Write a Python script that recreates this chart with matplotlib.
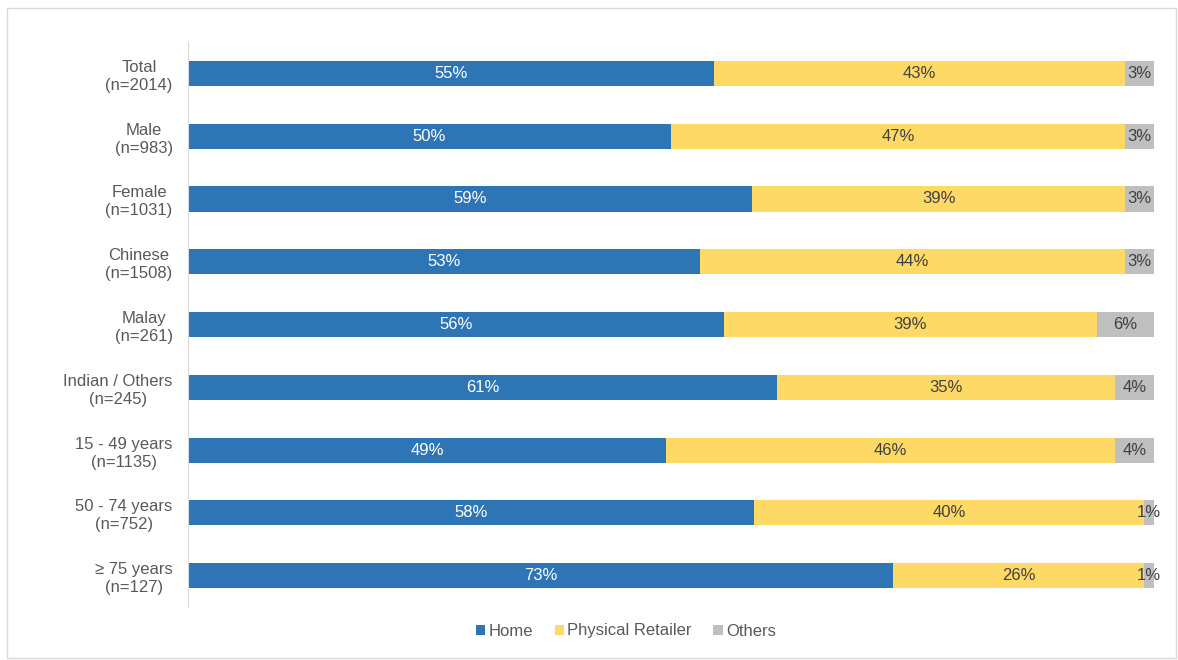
import matplotlib.pyplot as plt
import numpy as np
from matplotlib.patches import Rectangle

plt.rcParams['font.family'] = ['Liberation Sans', 'DejaVu Sans']

# --- Daten ---
categories = ['Total\n(n=2014)', 'Male\n(n=983)', 'Female\n(n=1031)', 'Chinese\n(n=1508)',
              'Malay\n(n=261)', 'Indian / Others\n(n=245)', '15 - 49 years\n(n=1135)',
              '50 - 74 years\n(n=752)', '\u2265 75 years\n(n=127)']
home = [55, 50, 59, 53, 56, 61, 49, 58, 73]
retailer = [43, 47, 39, 44, 39, 35, 46, 40, 26]
others = [3, 3, 3, 3, 6, 4, 4, 1, 1]
series_names = ['Home', 'Physical Retailer', 'Others']

colors = ['#2E75B6', '#FFD966', '#BFBFBF']
text_colors = ['white', '#404040', '#404040']

W, H = 1178, 660
fig = plt.figure(figsize=(W / 100, H / 100), dpi=100)
ax = fig.add_axes([188 / W, 1 - 607 / H, (1154 - 188) / W, (607 - 42) / H])

vals = np.array([home, retailer, others], dtype=float)
shares = vals / vals.sum(axis=0) * 100  # 100%-gestapelt wie in Excel
y = np.arange(len(categories))
left = np.zeros(len(categories))
for i, name in enumerate(series_names):
    ax.barh(y, shares[i], left=left, height=0.4, color=colors[i], label=name)
    for j in range(len(categories)):
        ax.text(left[j] + shares[i][j] / 2, y[j], f'{int(vals[i][j])}%', ha='center', va='center',
                color=text_colors[i], fontsize=12)
    left += shares[i]

ax.set_xlim(0, 100)
ax.set_ylim(len(categories) - 0.5, -0.5)
ax.set_yticks(y)
ax.set_yticklabels(categories, fontsize=12, color='#595959', multialignment='center',
                   linespacing=1.25)
ax.tick_params(axis='y', length=0, pad=11)
ax.set_xticks([])
for s in ['top', 'right', 'bottom']:
    ax.spines[s].set_visible(False)
ax.spines['left'].set_color('#D9D9D9')

fig.legend(loc='center', bbox_to_anchor=(626 / W, 1 - 631 / H), ncol=3, frameon=False,
           fontsize=12, handlelength=0.55, handleheight=0.55, handletextpad=0.2,
           columnspacing=1.3, labelcolor='#595959')

# heller Rahmen um die Grafik
fig.patches.append(Rectangle((7 / W, 2 / H), 1 - 9 / W, 1 - 10 / H, transform=fig.transFigure,
                             fill=False, edgecolor='#D9D9D9', linewidth=1))

fig.savefig('out.png', dpi=100)
